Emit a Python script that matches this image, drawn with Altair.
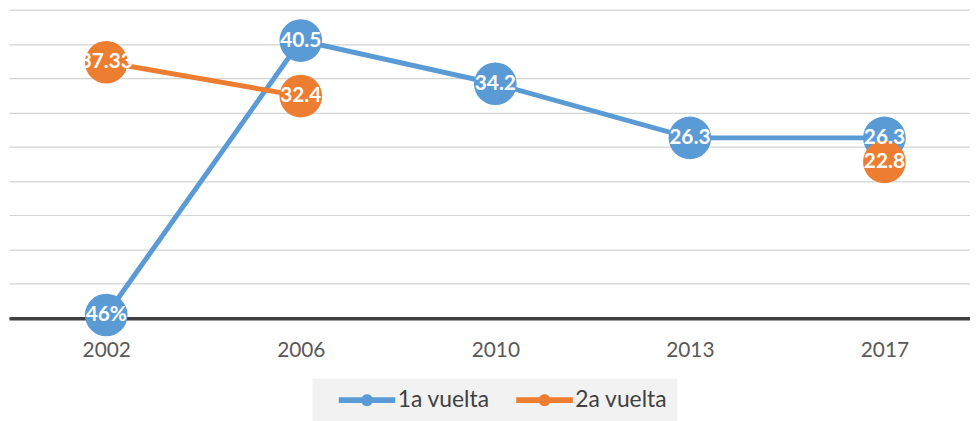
import altair as alt
import pandas as pd

years = ["2002", "2006", "2010", "2013", "2017"]
series_names = ["1a vuelta", "2a vuelta"]
vuelta1 = [0.46, 40.5, 34.2, 26.3, 26.3]
vuelta1_labels = ["46%", "40.5", "34.2", "26.3", "26.3"]
vuelta2 = [37.33, 32.4, None, None, 22.8]
vuelta2_labels = ["37.33", "32.4", None, None, "22.8"]
colors = ["#5b9bd5", "#ed7d31"]
grid_values = [0, 5, 10, 15, 20, 25, 30, 35, 40, 45]

rows = []
for vals, labs, name in [(vuelta1, vuelta1_labels, series_names[0]),
                         (vuelta2, vuelta2_labels, series_names[1])]:
    for i, (y, v, l) in enumerate(zip(years, vals, labs)):
        rows.append({"year": y, "idx": i, "serie": name, "value": v, "label": l})
df = pd.DataFrame(rows)

label_expr = "[" + ",".join("'%s'" % y for y in years) + "][datum.value]"

x_enc = alt.X("idx:Q",
              scale=alt.Scale(domain=[-0.5, 4.44], nice=False, zero=False),
              axis=alt.Axis(title=None, labelAngle=0, ticks=False, grid=False,
                            values=list(range(len(years))), labelExpr=label_expr,
                            domainColor="#404040", domainWidth=3.5,
                            labelFont="Lato", labelFontSize=21, labelColor="#595959",
                            labelPadding=22))
y_enc = alt.Y("value:Q", scale=alt.Scale(domain=[0, 45], nice=False, zero=True),
              axis=alt.Axis(title=None, labels=False, ticks=False, domain=False,
                            values=grid_values, gridColor="#d4d4d4", gridWidth=1.2))
color_scale = alt.Scale(domain=series_names, range=colors)

legend_path = ("M0.5,-0.29 L6.2,-0.29 L6.2,0.29 L0.5,0.29 Z "
               "M2.75,0 A0.6,0.6 0 1,1 3.95,0 A0.6,0.6 0 1,1 2.75,0 Z")
legend = alt.Legend(title=None, orient="none", direction="horizontal",
                    legendX=306, legendY=372,
                    fillColor="#f2f2f2", padding=10,
                    symbolType=legend_path, symbolSize=400,
                    symbolStrokeWidth=0, labelOffset=53,
                    columnPadding=10,
                    labelFont="Lato", labelFontSize=23,
                    labelColor="#404040")

lines = alt.Chart(df).mark_line(strokeWidth=5, invalid="break-paths-show-domains").encode(
    x=x_enc, y=y_enc,
    color=alt.Color("serie:N", scale=color_scale, legend=legend),
)
points = alt.Chart(df).transform_filter("datum.value != null").mark_point(
    filled=True, size=1850, opacity=1).encode(
    x=x_enc, y=y_enc,
    color=alt.Color("serie:N", scale=color_scale, legend=legend),
)
texts = alt.Chart(df).transform_filter("datum.label != null").mark_text(
    color="white", font="Lato", fontWeight="bold", fontSize=21, baseline="middle").encode(
    x=x_enc, y=y_enc, text="label:N",
)

chart = alt.layer(lines, points, texts).properties(
    width=969, height=311,
    padding={"left": 1, "top": 0, "right": 0, "bottom": 0},
).configure_view(stroke=None)

chart.save("out.html", embed_options={"renderer": "svg", "actions": False})
